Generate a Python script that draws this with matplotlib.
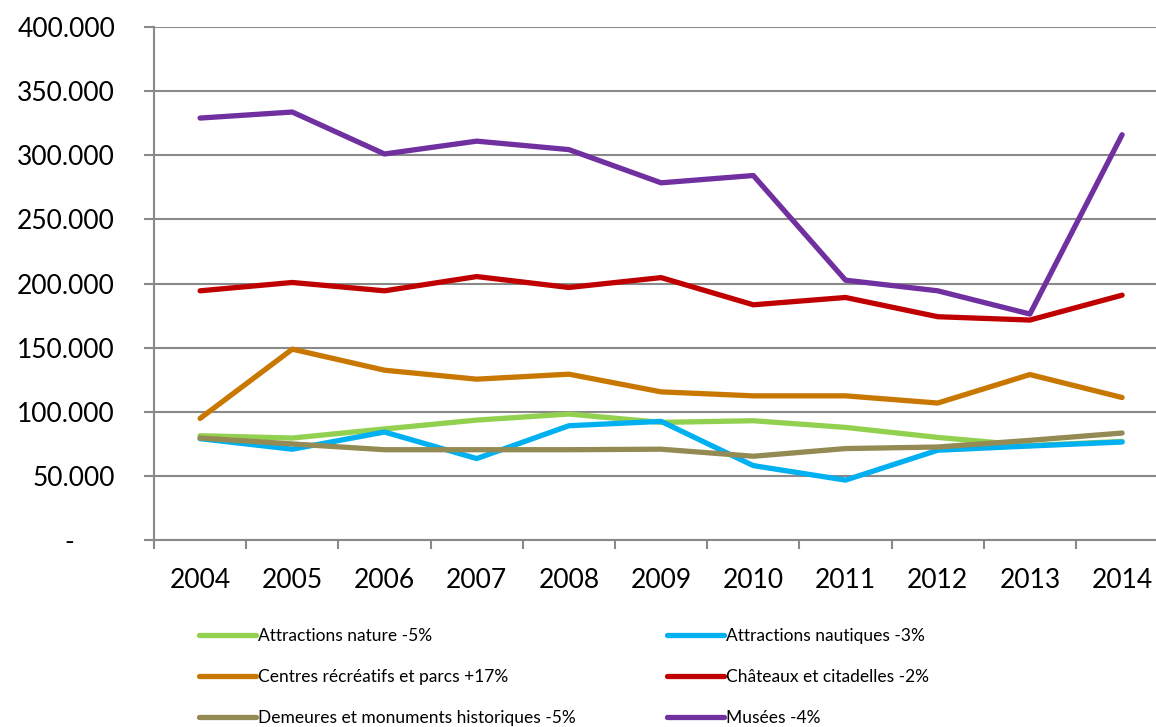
import numpy as np
import matplotlib
matplotlib.use('Agg')
import matplotlib.pyplot as plt
from matplotlib.ticker import FixedLocator, FuncFormatter

plt.rcParams['font.family'] = ['Lato', 'DejaVu Sans']

years = ['2004', '2005', '2006', '2007', '2008', '2009', '2010', '2011', '2012', '2013', '2014']

nature = [81300, 79500, 86600, 93500, 98200, 91700, 93000, 87800, 80000, 73600, 76900]
nautiques = [79000, 70800, 84200, 63500, 89100, 92500, 58000, 46700, 70000, 73300, 76400]
centres = [94800, 148800, 132400, 125400, 129300, 115500, 112400, 112400, 106800, 129000, 111100]
chateaux = [194300, 200800, 194300, 205400, 196900, 204600, 183400, 189100, 174100, 171500, 190900]
demeures = [79500, 74900, 70400, 70400, 70400, 70800, 65300, 71300, 72500, 77700, 83400]
musees = [329000, 333700, 301000, 311000, 304400, 278500, 284200, 202600, 194300, 176200, 316000]

labels = ['Attractions nature -5%', 'Attractions nautiques -3%',
          'Centres récréatifs et parcs +17%', 'Châteaux et citadelles -2%',
          'Demeures et monuments historiques -5%', 'Musées -4%']
colors = ['#92D050', '#00B0F0', '#C87800', '#C00000', '#948A54', '#7030A0']
series = [nature, nautiques, centres, chateaux, demeures, musees]

fig = plt.figure(figsize=(11.56, 7.27), dpi=100)
ax = fig.add_axes([154 / 1156, 1 - 540 / 727, 1 - 154 / 1156, (540 - 27) / 727])

x = np.arange(len(years))
lines = []
for vals, col, lab in zip(series, colors, labels):
    ln, = ax.plot(x, vals, color=col, lw=3.8, label=lab, solid_capstyle='round',
                  solid_joinstyle='round')
    lines.append(ln)

ax.set_xlim(-0.5, -0.5 + (1156 - 154) / 92.2)
ax.set_ylim(0, 400000)

ax.yaxis.set_major_locator(FixedLocator(np.arange(0, 400001, 50000)))
ax.yaxis.set_major_formatter(FuncFormatter(
    lambda v, p: '-      ' if v == 0 else f'{int(v):,}'.replace(',', '.')))
ax.grid(axis='y', color='#898989', lw=1.5)
ax.set_axisbelow(True)

ax.xaxis.set_major_locator(FixedLocator(np.arange(-0.5, 10.0, 1)))
ax.xaxis.set_major_formatter(FuncFormatter(lambda v, p: ''))
ax.xaxis.set_minor_locator(FixedLocator(x))
ax.xaxis.set_minor_formatter(FuncFormatter(lambda v, p: years[int(round(v))]))

for s in ['top', 'right']:
    ax.spines[s].set_visible(False)
for s in ['left', 'bottom']:
    ax.spines[s].set_color('#898989')
    ax.spines[s].set_linewidth(1.5)

ax.tick_params(axis='y', which='major', length=7, width=1.5, color='#898989',
               labelsize=19, pad=21)
ax.tick_params(axis='x', which='major', length=6.5, width=1.5, color='#898989')
ax.tick_params(axis='x', which='minor', length=0, labelsize=19, pad=20)

left = [lines[0], lines[2], lines[4]]
right = [lines[1], lines[3], lines[5]]
leg_kw = dict(frameon=False, fontsize=12.5, handlelength=3.3, handletextpad=0.12,
              labelspacing=1.45, borderaxespad=0, borderpad=0, loc='upper left')
leg1 = fig.legend(left, [l.get_label() for l in left],
                  bbox_to_anchor=(199 / 1156, 1 - 628 / 727), **leg_kw)
leg2 = fig.legend(right, [l.get_label() for l in right],
                  bbox_to_anchor=(667 / 1156, 1 - 628 / 727), **leg_kw)

fig.savefig('out.png', dpi=100)
